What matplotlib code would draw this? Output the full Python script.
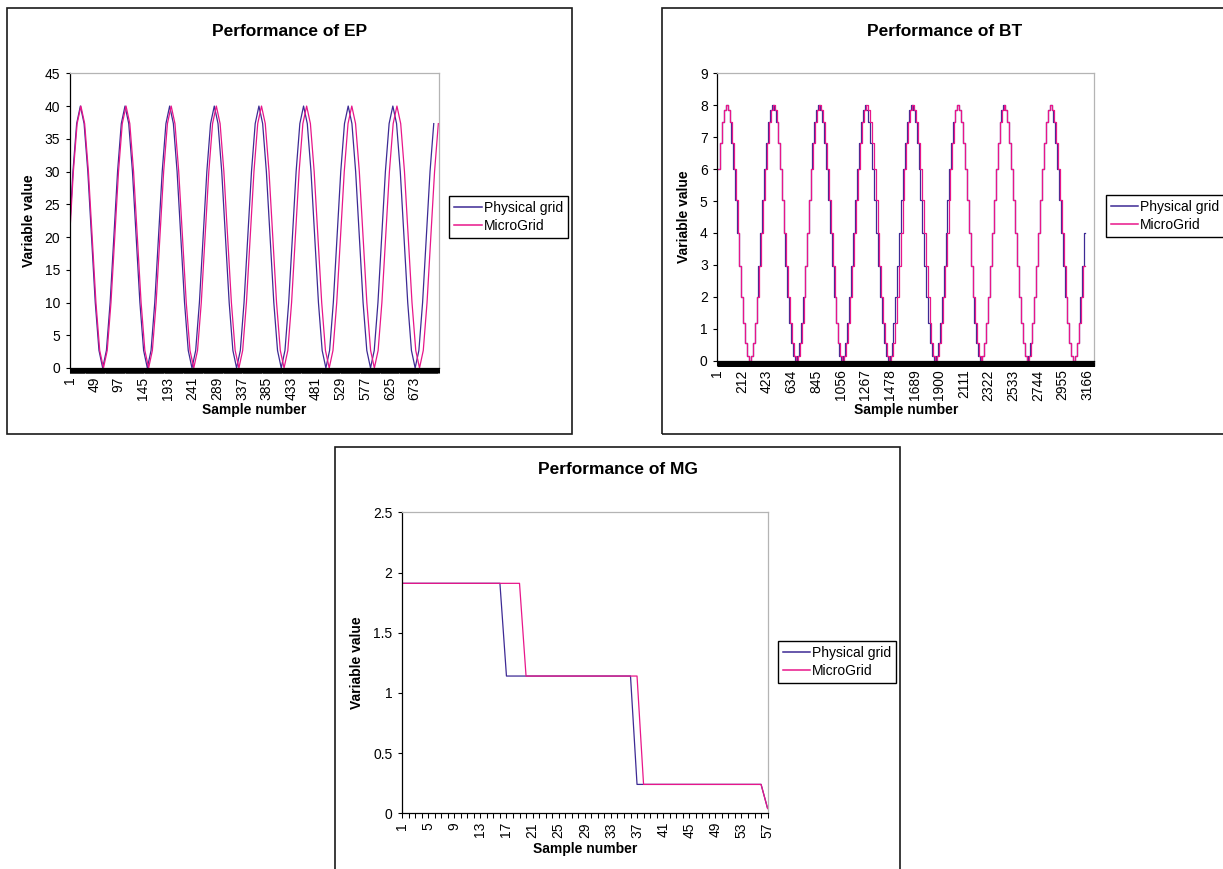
import matplotlib
matplotlib.use('Agg')
import matplotlib.pyplot as plt
from matplotlib.patches import Rectangle
from matplotlib.lines import Line2D

plt.rcParams['font.family'] = ['Liberation Sans', 'DejaVu Sans']

# ---------------- data ----------------
series_names = ['Physical grid', 'MicroGrid']

# Performance of EP (sample number, value)
ep_phys_x = [1, 7.5, 14.75,
             22, 29.25, 36.5, 43.75, 51, 58.25, 65.5, 72.75, 80, 87.25, 94.5, 101.75,
             109, 116.25, 123.5, 130.75, 138, 145.25, 152.5, 159.75, 167, 174.25, 181.5, 188.75,
             196, 203.25, 210.5, 217.75, 225, 232.25, 239.5, 246.75, 254, 261.25, 268.5, 275.75,
             283, 290.25, 297.5, 304.75, 312, 319.25, 326.5, 333.75, 341, 348.25, 355.5, 362.75,
             370, 377.25, 384.5, 391.75, 399, 406.25, 413.5, 420.75, 428, 435.25, 442.5, 449.75,
             457, 464.25, 471.5, 478.75, 486, 493.25, 500.5, 507.75, 515, 522.25, 529.5, 536.75,
             544, 551.25, 558.5, 565.75, 573, 580.25, 587.5, 594.75, 602, 609.25, 616.5, 623.75,
             631, 638.25, 645.5, 652.75, 660, 667.25, 674.5, 681.75, 689, 696.25, 703.5, 710.75]
ep_phys_y = [21.1, 30, 37.32,
             40, 37.32, 30, 20, 10, 2.68, 0, 2.68, 10, 20, 30, 37.32,
             40, 37.32, 30, 20, 10, 2.68, 0, 2.68, 10, 20, 30, 37.32,
             40, 37.32, 30, 20, 10, 2.68, 0, 2.68, 10, 20, 30, 37.32,
             40, 37.32, 30, 20, 10, 2.68, 0, 2.68, 10, 20, 30, 37.32,
             40, 37.32, 30, 20, 10, 2.68, 0, 2.68, 10, 20, 30, 37.32,
             40, 37.32, 30, 20, 10, 2.68, 0, 2.68, 10, 20, 30, 37.32,
             40, 37.32, 30, 20, 10, 2.68, 0, 2.68, 10, 20, 30, 37.32,
             40, 37.32, 30, 20, 10, 2.68, 0, 2.68, 10, 20, 30, 37.32]
ep_micro_x = [1, 8.33, 15.67,
              23, 30.33, 37.67, 45, 52.33, 59.67, 67, 74.33, 81.67, 89, 96.33, 103.67,
              111, 118.33, 125.67, 133, 140.33, 147.67, 155, 162.33, 169.67, 177, 184.33, 191.67,
              199, 206.33, 213.67, 221, 228.33, 235.67, 243, 250.33, 257.67, 265, 272.33, 279.67,
              287, 294.33, 301.67, 309, 316.33, 323.67, 331, 338.33, 345.67, 353, 360.33, 367.67,
              375, 382.33, 389.67, 397, 404.33, 411.67, 419, 426.33, 433.67, 441, 448.33, 455.67,
              463, 470.33, 477.67, 485, 492.33, 499.67, 507, 514.33, 521.67, 529, 536.33, 543.67,
              551, 558.33, 565.67, 573, 580.33, 587.67, 595, 602.33, 609.67, 617, 624.33, 631.67,
              639, 646.33, 653.67, 661, 668.33, 675.67, 683, 690.33, 697.67, 705, 712.33, 719.67]
ep_micro_y = [20, 30, 37.32,
              40, 37.32, 30, 20, 10, 2.68, 0, 2.68, 10, 20, 30, 37.32,
              40, 37.32, 30, 20, 10, 2.68, 0, 2.68, 10, 20, 30, 37.32,
              40, 37.32, 30, 20, 10, 2.68, 0, 2.68, 10, 20, 30, 37.32,
              40, 37.32, 30, 20, 10, 2.68, 0, 2.68, 10, 20, 30, 37.32,
              40, 37.32, 30, 20, 10, 2.68, 0, 2.68, 10, 20, 30, 37.32,
              40, 37.32, 30, 20, 10, 2.68, 0, 2.68, 10, 20, 30, 37.32,
              40, 37.32, 30, 20, 10, 2.68, 0, 2.68, 10, 20, 30, 37.32,
              40, 37.32, 30, 20, 10, 2.68, 0, 2.68, 10, 20, 30, 37.32]
ep_n_samples = 720
ep_tick_labels = [1, 49, 97, 145, 193, 241, 289, 337, 385, 433, 481, 529, 577, 625, 673]
ep_yticks = [0, 5, 10, 15, 20, 25, 30, 35, 40, 45]

# Performance of BT (stepped: sample where each level starts, level)
bt_phys_x = [1, 22, 39, 55, 72, 88, 105, 121, 138, 154, 171, 187, 204, 220, 237, 253, 270, 286, 303, 319, 336, 352, 369, 385,
             402, 418, 435, 451, 468, 484, 501, 517, 534, 550, 567, 583, 600, 616, 633, 649, 666, 682, 699, 715, 732, 748, 765, 781,
             798, 814, 831, 847, 864, 880, 897, 913, 930, 946, 963, 979, 996, 1012, 1029, 1045, 1062, 1078, 1095, 1111, 1128, 1144, 1161, 1177,
             1194, 1210, 1227, 1243, 1260, 1276, 1293, 1309, 1326, 1342, 1359, 1375, 1392, 1408, 1425, 1441, 1458, 1474, 1491, 1507, 1524, 1540, 1557, 1573,
             1590, 1606, 1623, 1639, 1656, 1672, 1689, 1705, 1722, 1738, 1755, 1771, 1788, 1804, 1821, 1837, 1854, 1870, 1887, 1903, 1920, 1936, 1953, 1969,
             1986, 2002, 2019, 2035, 2052, 2068, 2085, 2101, 2118, 2134, 2151, 2167, 2184, 2200, 2217, 2233, 2250, 2266, 2283, 2299, 2316, 2332, 2349, 2365,
             2382, 2398, 2415, 2431, 2448, 2464, 2481, 2497, 2514, 2530, 2547, 2563, 2580, 2596, 2613, 2629, 2646, 2662, 2679, 2695, 2712, 2728, 2745, 2761,
             2778, 2794, 2811, 2827, 2844, 2860, 2877, 2893, 2910, 2926, 2943, 2959, 2976, 2992, 3009, 3025, 3042, 3058, 3075, 3091, 3108, 3124, 3141,
             3144]
bt_phys_y = [6.0, 6.83, 7.46, 7.86, 8.0, 7.86, 7.46, 6.83, 6.0, 5.04, 4.0, 2.96, 2.0, 1.17, 0.54, 0.14, 0.0, 0.14, 0.54, 1.17, 2.0, 2.96, 4.0, 5.04,
             6.0, 6.83, 7.46, 7.86, 8.0, 7.86, 7.46, 6.83, 6.0, 5.04, 4.0, 2.96, 2.0, 1.17, 0.54, 0.14, 0.0, 0.14, 0.54, 1.17, 2.0, 2.96, 4.0, 5.04,
             6.0, 6.83, 7.46, 7.86, 8.0, 7.86, 7.46, 6.83, 6.0, 5.04, 4.0, 2.96, 2.0, 1.17, 0.54, 0.14, 0.0, 0.14, 0.54, 1.17, 2.0, 2.96, 4.0, 5.04,
             6.0, 6.83, 7.46, 7.86, 8.0, 7.86, 7.46, 6.83, 6.0, 5.04, 4.0, 2.96, 2.0, 1.17, 0.54, 0.14, 0.0, 0.14, 0.54, 1.17, 2.0, 2.96, 4.0, 5.04,
             6.0, 6.83, 7.46, 7.86, 8.0, 7.86, 7.46, 6.83, 6.0, 5.04, 4.0, 2.96, 2.0, 1.17, 0.54, 0.14, 0.0, 0.14, 0.54, 1.17, 2.0, 2.96, 4.0, 5.04,
             6.0, 6.83, 7.46, 7.86, 8.0, 7.86, 7.46, 6.83, 6.0, 5.04, 4.0, 2.96, 2.0, 1.17, 0.54, 0.14, 0.0, 0.14, 0.54, 1.17, 2.0, 2.96, 4.0, 5.04,
             6.0, 6.83, 7.46, 7.86, 8.0, 7.86, 7.46, 6.83, 6.0, 5.04, 4.0, 2.96, 2.0, 1.17, 0.54, 0.14, 0.0, 0.14, 0.54, 1.17, 2.0, 2.96, 4.0, 5.04,
             6.0, 6.83, 7.46, 7.86, 8.0, 7.86, 7.46, 6.83, 6.0, 5.04, 4.0, 2.96, 2.0, 1.17, 0.54, 0.14, 0.0, 0.14, 0.54, 1.17, 2.0, 2.96, 4.0,
             4.0]
bt_micro_x = [1, 24, 41, 57, 74, 90, 107, 123, 140, 156, 173, 189, 206, 222, 239, 255, 272, 288, 305, 321, 338, 354, 371, 387,
              408, 424, 441, 457, 474, 490, 507, 523, 540, 556, 573, 589, 606, 622, 639, 655, 672, 688, 705, 721, 738, 754, 771, 787,
              806, 822, 839, 855, 872, 888, 905, 921, 938, 954, 971, 987, 1004, 1020, 1037, 1053, 1070, 1086, 1103, 1119, 1136, 1152, 1169, 1185,
              1206, 1222, 1239, 1255, 1272, 1288, 1305, 1321, 1338, 1354, 1371, 1387, 1404, 1420, 1437, 1453, 1470, 1486, 1503, 1519, 1536, 1552, 1569, 1585,
              1602, 1618, 1635, 1651, 1668, 1684, 1701, 1717, 1734, 1750, 1767, 1783, 1800, 1816, 1833, 1849, 1866, 1882, 1899, 1915, 1932, 1948, 1965, 1981,
              1989, 2005, 2022, 2038, 2055, 2071, 2088, 2104, 2121, 2137, 2154, 2170, 2187, 2203, 2220, 2236, 2253, 2269, 2286, 2302, 2319, 2335, 2352, 2368,
              2384, 2400, 2417, 2433, 2450, 2466, 2483, 2499, 2516, 2532, 2549, 2565, 2582, 2598, 2615, 2631, 2648, 2664, 2681, 2697, 2714, 2730, 2747, 2763,
              2782, 2798, 2815, 2831, 2848, 2864, 2881, 2897, 2914, 2930, 2947, 2963, 2980, 2996, 3013, 3029, 3046, 3062, 3079, 3095, 3112, 3128,
              3144]
bt_micro_y = [6.0, 6.83, 7.46, 7.86, 8.0, 7.86, 7.46, 6.83, 6.0, 5.04, 4.0, 2.96, 2.0, 1.17, 0.54, 0.14, 0.0, 0.14, 0.54, 1.17, 2.0, 2.96, 4.0, 5.04,
              6.0, 6.83, 7.46, 7.86, 8.0, 7.86, 7.46, 6.83, 6.0, 5.04, 4.0, 2.96, 2.0, 1.17, 0.54, 0.14, 0.0, 0.14, 0.54, 1.17, 2.0, 2.96, 4.0, 5.04,
              6.0, 6.83, 7.46, 7.86, 8.0, 7.86, 7.46, 6.83, 6.0, 5.04, 4.0, 2.96, 2.0, 1.17, 0.54, 0.14, 0.0, 0.14, 0.54, 1.17, 2.0, 2.96, 4.0, 5.04,
              6.0, 6.83, 7.46, 7.86, 8.0, 7.86, 7.46, 6.83, 6.0, 5.04, 4.0, 2.96, 2.0, 1.17, 0.54, 0.14, 0.0, 0.14, 0.54, 1.17, 2.0, 2.96, 4.0, 5.04,
              6.0, 6.83, 7.46, 7.86, 8.0, 7.86, 7.46, 6.83, 6.0, 5.04, 4.0, 2.96, 2.0, 1.17, 0.54, 0.14, 0.0, 0.14, 0.54, 1.17, 2.0, 2.96, 4.0, 5.04,
              6.0, 6.83, 7.46, 7.86, 8.0, 7.86, 7.46, 6.83, 6.0, 5.04, 4.0, 2.96, 2.0, 1.17, 0.54, 0.14, 0.0, 0.14, 0.54, 1.17, 2.0, 2.96, 4.0, 5.04,
              6.0, 6.83, 7.46, 7.86, 8.0, 7.86, 7.46, 6.83, 6.0, 5.04, 4.0, 2.96, 2.0, 1.17, 0.54, 0.14, 0.0, 0.14, 0.54, 1.17, 2.0, 2.96, 4.0, 5.04,
              6.0, 6.83, 7.46, 7.86, 8.0, 7.86, 7.46, 6.83, 6.0, 5.04, 4.0, 2.96, 2.0, 1.17, 0.54, 0.14, 0.0, 0.14, 0.54, 1.17, 2.0, 2.96,
              2.96]
bt_n_samples = 3227
bt_tick_labels = [1, 212, 423, 634, 845, 1056, 1267, 1478, 1689, 1900, 2111, 2322, 2533, 2744, 2955, 3166]
bt_yticks = [0, 1, 2, 3, 4, 5, 6, 7, 8, 9]

# Performance of MG (one value per sample 1..57)
mg_samples = list(range(1, 58))
mg_phys = [1.91, 1.91, 1.91, 1.91, 1.91, 1.91, 1.91, 1.91, 1.91, 1.91, 1.91, 1.91, 1.91, 1.91, 1.91, 1.91,
           1.14, 1.14, 1.14, 1.14, 1.14, 1.14, 1.14, 1.14, 1.14, 1.14, 1.14, 1.14, 1.14, 1.14, 1.14, 1.14, 1.14, 1.14, 1.14, 1.14,
           0.24, 0.24, 0.24, 0.24, 0.24, 0.24, 0.24, 0.24, 0.24, 0.24, 0.24, 0.24, 0.24, 0.24, 0.24, 0.24, 0.24, 0.24, 0.24, 0.24,
           0.04]
mg_micro = [1.91, 1.91, 1.91, 1.91, 1.91, 1.91, 1.91, 1.91, 1.91, 1.91, 1.91, 1.91, 1.91, 1.91, 1.91, 1.91, 1.91, 1.91, 1.91,
            1.14, 1.14, 1.14, 1.14, 1.14, 1.14, 1.14, 1.14, 1.14, 1.14, 1.14, 1.14, 1.14, 1.14, 1.14, 1.14, 1.14, 1.14,
            0.24, 0.24, 0.24, 0.24, 0.24, 0.24, 0.24, 0.24, 0.24, 0.24, 0.24, 0.24, 0.24, 0.24, 0.24, 0.24, 0.24, 0.24, 0.24,
            0.04]
mg_tick_labels = [1, 5, 9, 13, 17, 21, 25, 29, 33, 37, 41, 45, 49, 53, 57]
mg_yticks = [0, 0.5, 1, 1.5, 2, 2.5]
mg_ytick_text = ['0', '0.5', '1', '1.5', '2', '2.5']

# ---------------- style ----------------
W, H = 1223, 869
PHYS_C = '#3d2a94'
MICRO_C = '#e8168a'
FRAME_C = '#b4b4b4'

fig = plt.figure(figsize=(W / 100, H / 100), dpi=100)
fig.patch.set_facecolor('white')


def fx(px):
    return px / W


def fy(py):
    return 1 - py / H


def chart_box(x0, y0, x1, y1):
    fig.add_artist(Rectangle((fx(x0), fy(y1)), (x1 - x0) / W, (y1 - y0) / H,
                             transform=fig.transFigure, fill=False,
                             edgecolor='#1a1a1a', linewidth=1.2))


def make_axes(l, t, r, b):
    return fig.add_axes([fx(l), fy(b), (r - l) / W, (b - t) / H])


def style_axes(ax, n, ylim, yticks, ytext, xlabels, ylab_x, xlab_y, leg_xy):
    ax.set_xlim(1, n)
    ax.set_ylim(*ylim)
    ax.set_yticks(yticks)
    ax.set_yticklabels(ytext)
    ax.set_xticks(xlabels)
    ax.set_xticklabels([str(v) for v in xlabels])
    ax.set_xticks(list(range(1, n + 1)), minor=True)
    ax.tick_params(axis='y', direction='out', length=3, width=0.8, pad=4.0,
                   labelsize=10, colors='black')
    ax.tick_params(axis='x', which='both', direction='out', length=3.8, width=0.75,
                   pad=2.5, labelsize=10, labelrotation=90)
    for s in ('top', 'right'):
        ax.spines[s].set_color(FRAME_C)
        ax.spines[s].set_linewidth(0.9)
    for s in ('left', 'bottom'):
        ax.spines[s].set_color('black')
        ax.spines[s].set_linewidth(0.9)
    ax.set_ylabel('Variable value', fontsize=10, fontweight='bold')
    ax.yaxis.set_label_coords(ylab_x, 0.5)
    ax.yaxis.label.set_va('center')
    ax.set_xlabel('Sample number', fontsize=10, fontweight='bold')
    ax.xaxis.set_label_coords(0.5, xlab_y)
    ax.xaxis.label.set_va('center')
    handles = [Line2D([], [], color=PHYS_C, lw=1.1),
               Line2D([], [], color=MICRO_C, lw=1.1)]
    leg = ax.legend(handles, series_names, loc='upper left',
                    bbox_to_anchor=(fx(leg_xy[0]), fy(leg_xy[1])),
                    bbox_transform=fig.transFigure, borderaxespad=0,
                    fancybox=False, edgecolor='black', framealpha=1,
                    fontsize=10, handlelength=2.0, handletextpad=0.15,
                    borderpad=0.36, labelspacing=0.3)
    leg.get_frame().set_linewidth(1.0)


# ---- EP ----
chart_box(7, 8, 572, 434)
fig.text(fx(290), fy(31), 'Performance of EP', ha='center', va='center',
         fontsize=12.5, fontweight='bold')
ax1 = make_axes(69.6, 73.3, 438.5, 368)
ax1.plot(ep_phys_x, ep_phys_y, color=PHYS_C, lw=0.9)
ax1.plot(ep_micro_x, ep_micro_y, color=MICRO_C, lw=0.9)
style_axes(ax1, ep_n_samples, (0, 45), ep_yticks, [str(v) for v in ep_yticks],
           ep_tick_labels, -0.110, -0.1425, (449, 196))

# ---- BT ----
chart_box(662, 8, 1227, 434)
fig.text(fx(945), fy(31), 'Performance of BT', ha='center', va='center',
         fontsize=12.5, fontweight='bold')
ax2 = make_axes(717.4, 73.3, 1094.4, 360.7)
ax2.plot(bt_phys_x, bt_phys_y, color=PHYS_C, lw=0.9, drawstyle='steps-post')
ax2.plot(bt_micro_x, bt_micro_y, color=MICRO_C, lw=0.9, drawstyle='steps-post')
style_axes(ax2, bt_n_samples, (0, 9), bt_yticks, [str(v) for v in bt_yticks],
           bt_tick_labels, -0.0878, -0.1715, (1105.5, 195))

# ---- MG ----
chart_box(335, 447, 900, 872)
fig.text(fx(617.6), fy(470), 'Performance of MG', ha='center', va='center',
         fontsize=12.5, fontweight='bold')
ax3 = make_axes(402, 512.3, 767.6, 813.3)
ax3.plot(mg_samples, mg_phys, color=PHYS_C, lw=0.9)
ax3.plot(mg_samples, mg_micro, color=MICRO_C, lw=0.9)
style_axes(ax3, len(mg_samples), (0, 2.5), mg_yticks, mg_ytick_text,
           mg_tick_labels, -0.124, -0.1196, (777.5, 641))

fig.savefig('out.png', dpi=100, facecolor='white')
